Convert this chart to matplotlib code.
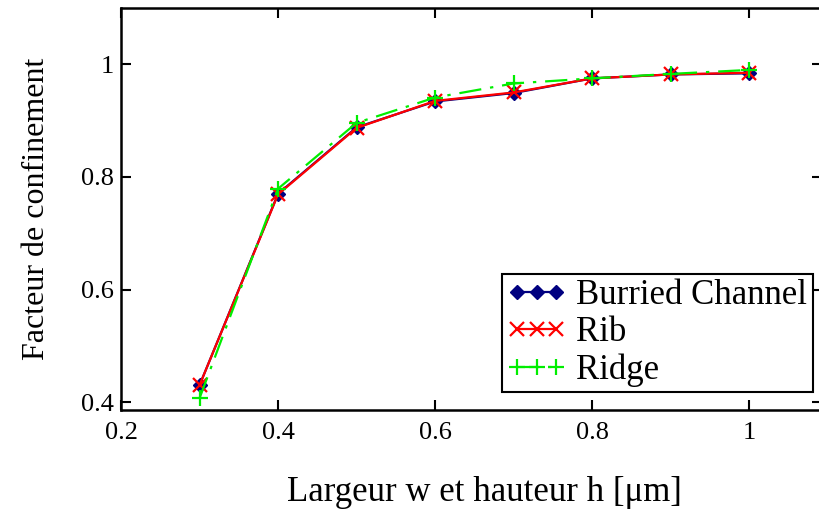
import matplotlib
matplotlib.use("Agg")
import matplotlib.pyplot as plt

# largeur w et hauteur h (um) et facteur de confinement
largeur = [0.3, 0.4, 0.5, 0.6, 0.7, 0.8, 0.9, 1.0]
burried_channel = [0.430, 0.770, 0.888, 0.934, 0.949, 0.975, 0.982, 0.984]
rib = [0.430, 0.769, 0.887, 0.935, 0.950, 0.975, 0.982, 0.985]
ridge = [0.407, 0.779, 0.896, 0.941, 0.966, 0.975, 0.983, 0.990]

x_ticks = [0.2, 0.4, 0.6, 0.8, 1.0]
x_tick_labels = ["0.2", "0.4", "0.6", "0.8", "1"]
y_ticks = [0.4, 0.6, 0.8, 1.0]
y_tick_labels = ["0.4", "0.6", "0.8", "1"]

plt.rcParams["font.family"] = ["Liberation Serif", "DejaVu Serif"]

fig = plt.figure(figsize=(8.2, 5.11), dpi=100)
# the right border of the plot is cut off in the original
ax = fig.add_axes([0.1476, 0.1977, 0.855, 0.7866])

ax.plot(largeur, burried_channel, color="#000080", lw=1.6, marker="D", ms=7,
        label="Burried Channel")
ax.plot(largeur, rib, color="#ff0000", lw=1.6, marker="x", ms=10, mew=1.6,
        label="Rib")
ax.plot(largeur, ridge, color="#00ee00", lw=1.6, marker="+", ms=12, mew=1.6,
        dashes=(10, 4, 1.5, 4), label="Ridge")

ax.set_xlim(0.2, 1.093)
ax.set_ylim(0.386, 1.1)
ax.set_xticks(x_ticks)
ax.set_xticklabels(x_tick_labels)
ax.set_yticks(y_ticks)
ax.set_yticklabels(y_tick_labels)
ax.tick_params(direction="in", length=7, width=1.5, labelsize=19,
               top=True, right=True, pad=5)
ax.tick_params(axis="x", pad=9)
for s in ax.spines.values():
    s.set_linewidth(1.8)

ax.set_xlabel("Largeur w et hauteur h [μm]", fontsize=25)
ax.xaxis.set_label_coords(0.519, -0.165)
ax.set_ylabel("Facteur de confinement", fontsize=23, labelpad=22)

leg = ax.legend(loc="lower left", bbox_to_anchor=(0.612, 0.233),
                bbox_transform=fig.transFigure, numpoints=3, fontsize=25,
                handlelength=1.7, handletextpad=0.3, borderpad=0.15,
                labelspacing=0.12, borderaxespad=0, fancybox=False,
                framealpha=1)
leg.get_frame().set_edgecolor("black")
leg.get_frame().set_linewidth(1.5)

fig.savefig("out.png", dpi=100)
